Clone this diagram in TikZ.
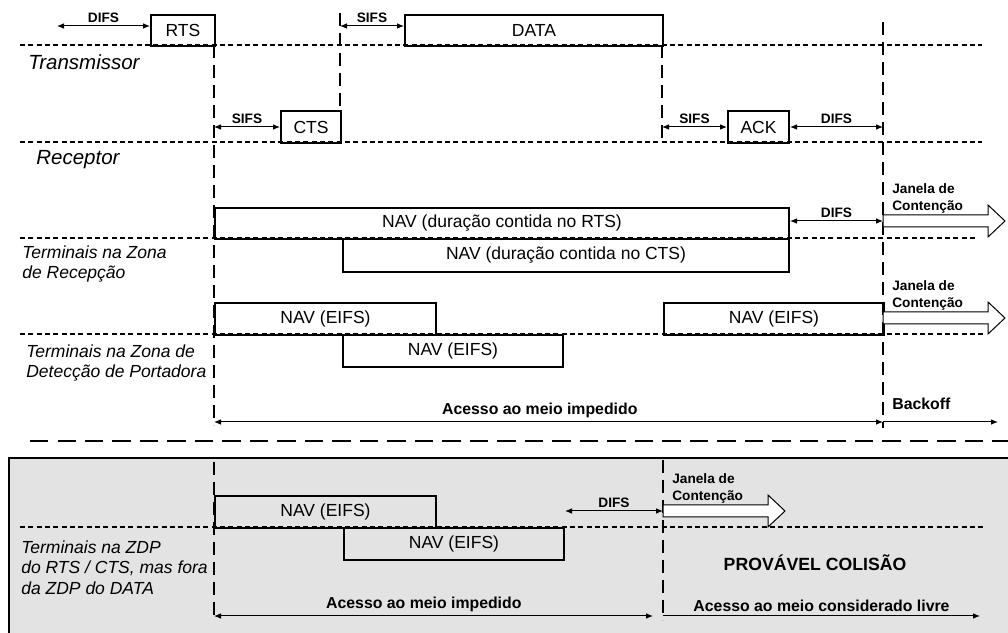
\documentclass[tikz,border=0pt]{standalone}
\usepackage{fontspec}
\setmainfont{Liberation Sans}
\usetikzlibrary{arrows.meta}
\newcommand\pxu{0.6pt}

\begin{document}
\begin{tikzpicture}[
        x=0.6pt, y=-0.6pt,
        pkt/.style={draw, line width=1.2pt, inner sep=0pt, anchor=north west,
            font=\fontsize{10.5}{12}\selectfont},
        slot/.style={line width=0.8pt, dash pattern=on 3pt off 2pt},
        vline/.style={line width=0.8pt, dash pattern=on 8pt off 4pt},
        dur/.style={{Latex[length=4.2pt,width=3.4pt]}-{Latex[length=4.2pt,width=3.4pt]}, line width=0.6pt},
        fwd/.style={-{Latex[length=4.2pt,width=3.4pt]}, line width=0.6pt},
        lbl/.style={font=\bfseries\fontsize{8.2}{10.2}\selectfont, inner sep=0pt, align=left},
        lblm/.style={font=\bfseries\fontsize{9.5}{11}\selectfont, inner sep=0pt},
        rowname/.style={font=\itshape\fontsize{10.5}{12.4}\selectfont, align=left, inner sep=0pt},
        cw/.style={draw, fill=white, line width=0.6pt}
        ]
    \clip (0,0) rectangle (1008,633);

    \draw[slot] (20,45) -- (982,45);
    \draw[slot] (20,142) -- (982,142);
    \draw[slot] (20,238) -- (978,238);
    \draw[slot] (20,334) -- (985,334);

    \coordinate (ta) at (214,45);
    \coordinate (tb) at (340,13);
    \coordinate (tc) at (662,45);
    \coordinate (td) at (883,22);
    \draw[vline] (ta) -- (214,425);
    \draw[vline] (tb) -- (340,110);
    \draw[vline] (tc) -- (662,142);
    \draw[vline] (td) -- (883,428);

    \node[pkt, minimum width=64*\pxu, minimum height=31*\pxu] (rts) at (150,14) {RTS};
    \node[pkt, minimum width=258*\pxu, minimum height=31*\pxu] (data) at (404,14) {DATA};
    \node[pkt, minimum width=60*\pxu, minimum height=32*\pxu] (cts) at (280,110) {CTS};
    \node[pkt, minimum width=61*\pxu, minimum height=32*\pxu] (ack) at (727,110) {ACK};
    \node[pkt, minimum width=574*\pxu, minimum height=31*\pxu] (navr) at (214,207) {NAV (duração contida no RTS)};
    \node[pkt, minimum width=446*\pxu, minimum height=33*\pxu] (navc) at (342,238) {NAV (duração contida no CTS)};
    \node[pkt, minimum width=221*\pxu, minimum height=32*\pxu] (eia) at (214,302) {NAV (EIFS)};
    \node[pkt, minimum width=220*\pxu, minimum height=32*\pxu] (eib) at (342,334) {NAV (EIFS)};
    \node[pkt, minimum width=220*\pxu, minimum height=32*\pxu] (eic) at (663,302) {NAV (EIFS)};

    \coordinate (d0) at (57,26);
    \draw[dur] (d0) -- (d0 -| rts.west) node[lbl, midway, above=2pt] (difs1) {DIFS};
    \coordinate (s0) at (340,26);
    \draw[dur] (s0) -- (s0 -| data.west) node[lbl, midway, above=2pt] (sifs1) {SIFS};
    \draw[dur] (ta |- cts.west) -- (cts.west) node[lbl, midway, above=2pt] (sifs2) {SIFS};
    \draw[dur] (tc |- ack.west) -- (ack.west) node[lbl, midway, above=2pt] (sifs3) {SIFS};
    \draw[dur] (ack.east) -- (td |- ack.east) node[lbl, midway, above=2pt] (difs2) {DIFS};
    \coordinate (d3) at (790,221);
    \draw[dur] (d3) -- (d3 -| td) node[lbl, midway, above=2pt] (difs3) {DIFS};

    \coordinate (w1) at (883,221);
    \draw[cw] (w1) ++(0,-6) -- ++(105,0) -- ++(0,-10) -- ++(17,16) -- ++(-17,16) -- ++(0,-10) -- ++(-105,0) -- cycle;
    \coordinate (w2) at (883,318);
    \draw[cw] (w2) ++(0,-6) -- ++(105,0) -- ++(0,-10) -- ++(17,16) -- ++(-17,16) -- ++(0,-10) -- ++(-105,0) -- cycle;
    \node[lbl, anchor=north west] (cw1) at (892,183) {Janela de\\Contenção};
    \node[lbl, anchor=north west] (cw2) at (892,280) {Janela de\\Contenção};

    \node[rowname, anchor=west, font=\itshape\fontsize{12.3}{14}\selectfont] (tx) at (28,62) {Transmissor};
    \node[rowname, anchor=west, font=\itshape\fontsize{12.3}{14}\selectfont] (rx) at (36,160) {Receptor};
    \node[rowname, anchor=north west] (zr) at (22,245) {Terminais na Zona\\de Recepção};
    \node[rowname, anchor=north west] (zd) at (26,344) {Terminais na Zona de\\Detecção de Portadora};

    \coordinate (a0) at (214,422);
    \coordinate (a1) at (883,422);
    \coordinate (a2) at (998,422);
    \draw[dur] (a0) -- (a1) node[lblm, pos=0.487, above=2.4pt] (acc1) {Acesso ao meio impedido};
    \draw[fwd] (a1) -- (a2);
    \node[lblm, anchor=west] (bko) at (892,404) {Backoff};

    \draw[line width=1.2pt, dash pattern=on 11pt off 5.5pt] (30,441) -- (1008,441);

    \draw[fill=black!11, line width=1.2pt] (9,458) rectangle (1030,660);
    \draw[slot] (20,527) -- (985,527);
    \coordinate (te) at (214,462);
    \coordinate (tf) at (663,460);
    \draw[vline] (te) -- (214,620);
    \draw[vline] (tf) -- (663,620);
    \node[pkt, minimum width=221*\pxu, minimum height=32*\pxu] (lea) at (214,495) {NAV (EIFS)};
    \node[pkt, minimum width=220*\pxu, minimum height=32*\pxu] (leb) at (343,527) {NAV (EIFS)};

    \coordinate (d4) at (565,511);
    \draw[dur] (d4) -- (d4 -| tf) node[lbl, midway, above=2pt] (difs4) {DIFS};
    \coordinate (w3) at (663,511);
    \draw[cw] (w3) ++(0,-6) -- ++(105,0) -- ++(0,-10) -- ++(17,16) -- ++(-17,16) -- ++(0,-10) -- ++(-105,0) -- cycle;
    \node[lbl, anchor=north west] (cw3) at (672,473) {Janela de\\Contenção};

    \node[rowname, anchor=north west] (zz) at (21,540) {Terminais na ZDP\\do RTS / CTS, mas fora\\da ZDP do DATA};
    \node[font=\bfseries\fontsize{10.6}{12}\selectfont, inner sep=0pt] (col) at (815,563) {PROVÁVEL COLISÃO};

    \coordinate (b0) at (214,616);
    \coordinate (b1) at (653,616);
    \coordinate (b2) at (663,616);
    \coordinate (b3) at (980,616);
    \draw[dur] (b0) -- (b1) node[lblm, pos=0.478, above=2.4pt] (acc2) {Acesso ao meio impedido};
    \draw[fwd] (b2) -- (b3) node[lblm, midway, above=2.4pt] (acc3) {Acesso ao meio considerado livre};
\end{tikzpicture}
\end{document}
